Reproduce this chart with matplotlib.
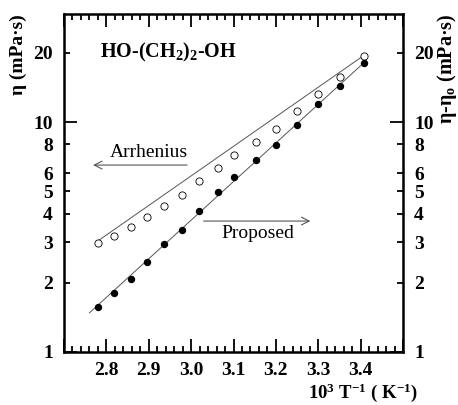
import numpy as np
import matplotlib
matplotlib.use("Agg")
import matplotlib.pyplot as plt
from matplotlib.ticker import FixedLocator, FixedFormatter

plt.rcParams['font.family'] = ['Liberation Serif', 'DejaVu Serif']
plt.rcParams['mathtext.fontset'] = 'custom'
plt.rcParams['mathtext.rm'] = 'Liberation Serif'
plt.rcParams['mathtext.bf'] = 'Liberation Serif:bold'
plt.rcParams['mathtext.it'] = 'Liberation Serif:italic'

# Data (10^3/T in K^-1)
inv_T = [2.781, 2.819, 2.857, 2.897, 2.935, 2.978, 3.018, 3.063,
         3.102, 3.153, 3.200, 3.250, 3.300, 3.352, 3.407]
eta = [2.97, 3.20, 3.48, 3.88, 4.33, 4.82, 5.54, 6.33,
       7.16, 8.19, 9.35, 11.13, 13.28, 15.74, 19.42]
eta_minus_eta0 = [1.574, 1.81, 2.08, 2.47, 2.94, 3.38, 4.11, 4.95,
                  5.78, 6.82, 7.97, 9.70, 11.94, 14.38, 18.0]

# Fitted lines (end points)
arr_x = [2.781, 3.413]
arr_y = [3.05, 19.8]
prop_x = [2.760, 3.413]
prop_y = [1.48, 18.48]

y_major = [1, 10]
y_minor = [2, 3, 4, 5, 6, 8, 20]
x_major = [2.7, 2.8, 2.9, 3.0, 3.1, 3.2, 3.3, 3.4, 3.5]
x_labels = ['', '2.8', '2.9', '3.0', '3.1', '3.2', '3.3', '3.4', '']

fig = plt.figure(figsize=(4.58, 4.05), dpi=100)
ax = fig.add_axes([64/458, 1-352/405, (403-64)/458, (352-14)/405])

ax.plot(arr_x, arr_y, '-', color='#555555', lw=0.7)
ax.plot(prop_x, prop_y, '-', color='#555555', lw=0.7)
ax.plot(inv_T, eta, 'o', mfc='white', mec='black', mew=0.6, ms=5.2)
ax.plot(inv_T, eta_minus_eta0, 'o', mfc='black', mec='black', ms=4.3)

ax.set_yscale('log')
ax.set_xlim(2.7, 3.5)
ax.set_ylim(1, 29.5)

ax.xaxis.set_major_locator(FixedLocator(x_major))
ax.xaxis.set_major_formatter(FixedFormatter(x_labels))
ax.xaxis.set_minor_locator(FixedLocator(np.round(np.arange(2.7, 3.501, 0.02), 3)))

ax.yaxis.set_major_locator(FixedLocator(y_major))
ax.yaxis.set_major_formatter(FixedFormatter([str(v) for v in y_major]))
ax.yaxis.set_minor_locator(FixedLocator(y_minor))
ax.yaxis.set_minor_formatter(FixedFormatter([str(v) for v in y_minor]))

for sp in ax.spines.values():
    sp.set_linewidth(1.8)

ax.tick_params(which='both', direction='in', top=True, right=True,
               labelright=True, labelsize=14, width=1.3)
ax.tick_params(which='major', length=9.5)
ax.tick_params(which='minor', length=4.5)
ax.tick_params(axis='x', which='both', pad=7)
ax.tick_params(axis='y', which='both', pad=8)
for lab in ax.get_xticklabels() + ax.get_yticklabels() + \
        ax.get_yticklabels(minor=True):
    lab.set_fontweight('bold')

ax.text(-0.136, 1.0, 'η (mPa·s)', transform=ax.transAxes,
        rotation=90, fontsize=14, fontweight='bold', va='top', ha='center')
ax.text(1.13, 1.0, r'η-η$_\mathbf{o}$ (mPa·s)', transform=ax.transAxes,
        rotation=90, fontsize=14.5, fontweight='bold', va='top', ha='center')
ax.text(1.045, -0.12, r'10$^\mathbf{3}$ T$^\mathbf{-1}$ ( K$^\mathbf{-1}$)',
        transform=ax.transAxes, fontsize=13.5, fontweight='bold',
        ha='right', va='center')

ax.text(0.105, 0.885, r'HO-(CH$_\mathbf{2}$)$_\mathbf{2}$-OH', transform=ax.transAxes,
        fontsize=14.5, fontweight='bold', ha='left', va='center')

# Annotations
ax.annotate('', xy=(2.762, 6.5), xytext=(2.997, 6.5),
            arrowprops=dict(arrowstyle='->', color='#555555', lw=0.8,
                            mutation_scale=14))
ax.text(2.9, 6.75, 'Arrhenius', fontsize=14, ha='center', va='bottom')
ax.annotate('', xy=(3.288, 3.71), xytext=(3.023, 3.71),
            arrowprops=dict(arrowstyle='->', color='#555555', lw=0.8,
                            mutation_scale=14))
ax.text(3.158, 3.55, 'Proposed', fontsize=14, ha='center', va='top')

fig.savefig('out.png', dpi=100)
